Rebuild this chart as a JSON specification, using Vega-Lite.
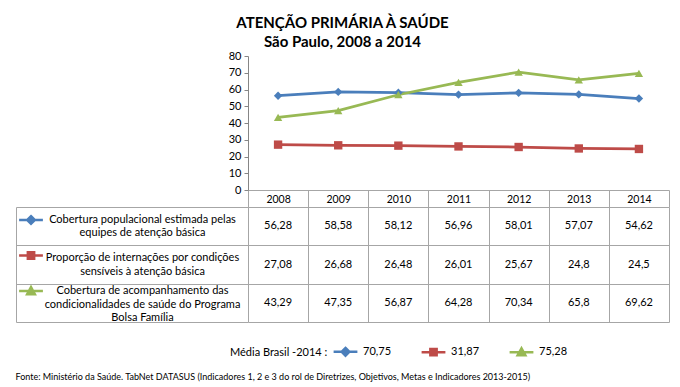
{
  "$schema": "https://vega.github.io/schema/vega-lite/v6.json",
  "background": "white",
  "padding": {"left": 15, "right": 12, "top": 16, "bottom": 4},
  "config": {
    "view": {"stroke": null},
    "font": "Lato",
    "locale": {"number": {"decimal": ",", "thousands": ".", "grouping": [3], "currency": ["R$", ""]}}
  },
  "title": {
    "text": "ATENÇÃO PRIMÁRIA À SAÚDE",
    "subtitle": "São Paulo, 2008 a 2014",
    "fontSize": 15,
    "fontWeight": "bold",
    "color": "black",
    "subtitleFontSize": 15,
    "subtitleFontWeight": "bold",
    "subtitleColor": "black",
    "subtitlePadding": 4,
    "anchor": "middle",
    "offset": 0
  },
  "datasets": {
    "indicadores": [
      {"ano": "2008", "serie": "Cobertura  populacional estimada pelas\nequipes de atenção básica", "valor": 56.28},
      {"ano": "2009", "serie": "Cobertura  populacional estimada pelas\nequipes de atenção básica", "valor": 58.58},
      {"ano": "2010", "serie": "Cobertura  populacional estimada pelas\nequipes de atenção básica", "valor": 58.12},
      {"ano": "2011", "serie": "Cobertura  populacional estimada pelas\nequipes de atenção básica", "valor": 56.96},
      {"ano": "2012", "serie": "Cobertura  populacional estimada pelas\nequipes de atenção básica", "valor": 58.01},
      {"ano": "2013", "serie": "Cobertura  populacional estimada pelas\nequipes de atenção básica", "valor": 57.07},
      {"ano": "2014", "serie": "Cobertura  populacional estimada pelas\nequipes de atenção básica", "valor": 54.62},
      {"ano": "2008", "serie": "Proporção de internações por condições\nsensíveis à atenção básica", "valor": 27.08},
      {"ano": "2009", "serie": "Proporção de internações por condições\nsensíveis à atenção básica", "valor": 26.68},
      {"ano": "2010", "serie": "Proporção de internações por condições\nsensíveis à atenção básica", "valor": 26.48},
      {"ano": "2011", "serie": "Proporção de internações por condições\nsensíveis à atenção básica", "valor": 26.01},
      {"ano": "2012", "serie": "Proporção de internações por condições\nsensíveis à atenção básica", "valor": 25.67},
      {"ano": "2013", "serie": "Proporção de internações por condições\nsensíveis à atenção básica", "valor": 24.8},
      {"ano": "2014", "serie": "Proporção de internações por condições\nsensíveis à atenção básica", "valor": 24.5},
      {"ano": "2008", "serie": "Cobertura de acompanhamento das\ncondicionalidades de saúde do Programa\nBolsa Família", "valor": 43.29},
      {"ano": "2009", "serie": "Cobertura de acompanhamento das\ncondicionalidades de saúde do Programa\nBolsa Família", "valor": 47.35},
      {"ano": "2010", "serie": "Cobertura de acompanhamento das\ncondicionalidades de saúde do Programa\nBolsa Família", "valor": 56.87},
      {"ano": "2011", "serie": "Cobertura de acompanhamento das\ncondicionalidades de saúde do Programa\nBolsa Família", "valor": 64.28},
      {"ano": "2012", "serie": "Cobertura de acompanhamento das\ncondicionalidades de saúde do Programa\nBolsa Família", "valor": 70.34},
      {"ano": "2013", "serie": "Cobertura de acompanhamento das\ncondicionalidades de saúde do Programa\nBolsa Família", "valor": 65.8},
      {"ano": "2014", "serie": "Cobertura de acompanhamento das\ncondicionalidades de saúde do Programa\nBolsa Família", "valor": 69.62}
    ],
    "media": [
      {"serie": "Cobertura  populacional estimada pelas\nequipes de atenção básica", "media_brasil_2014": "70,75"},
      {"serie": "Proporção de internações por condições\nsensíveis à atenção básica", "media_brasil_2014": "31,87"},
      {"serie": "Cobertura de acompanhamento das\ncondicionalidades de saúde do Programa\nBolsa Família", "media_brasil_2014": "75,28"}
    ]
  },
  "bounds": "flush",
  "spacing": 17,
  "resolve": {"scale": {"color": "independent", "shape": "independent", "fill": "independent", "stroke": "independent"}},
  "vconcat": [
    {
      "width": 421,
      "height": 134,
      "data": {"name": "indicadores"},
      "encoding": {
        "x": {
          "field": "ano", "type": "ordinal",
          "scale": {"type": "band", "paddingInner": 0, "paddingOuter": 0},
          "axis": {"title": null, "orient": "bottom", "domainColor": "#a6a6a6", "tickBand": "extent", "tickSize": 17, "tickColor": "#a6a6a6", "labelPadding": -13, "labelAngle": 0, "labelFontSize": 10.5, "labelColor": "black", "labelBaseline": "top"}
        },
        "y": {
          "field": "valor", "type": "quantitative",
          "scale": {"domain": [0, 80], "nice": false},
          "axis": {"title": null, "values": [0, 10, 20, 30, 40, 50, 60, 70, 80], "grid": false, "domainColor": "#868686", "tickColor": "#868686", "tickSize": 4, "labelFontSize": 11, "labelColor": "black", "labelPadding": 3}
        },
        "color": {
          "field": "serie", "type": "nominal", "sort": null,
          "scale": {"range": ["#4A7EBB", "#BE4B48", "#98B954"]},
          "legend": null
        }
      },
      "layer": [
        {"mark": {"type": "line", "strokeWidth": 2.75}},
        {
          "mark": {"type": "point", "filled": true, "opacity": 1, "size": 70},
          "encoding": {
            "shape": {"field": "serie", "type": "nominal", "sort": null, "scale": {"range": ["diamond", "square", "triangle-up"]}, "legend": null}
          }
        }
      ]
    },
    {
      "width": 421,
      "height": 115,
      "title": {
        "text": "Fonte: Ministério da Saúde. TabNet DATASUS (Indicadores 1, 2 e 3 do rol de Diretrizes, Objetivos, Metas e Indicadores 2013-2015)",
        "orient": "bottom", "anchor": "start", "fontSize": 9, "fontWeight": "normal", "color": "black", "offset": 12
      },
      "layer": [
        {
          "data": {"name": "indicadores"},
          "mark": {"type": "text", "fontSize": 11, "color": "black"},
          "encoding": {
            "x": {
              "field": "ano", "type": "ordinal",
              "scale": {"type": "band", "paddingInner": 0, "paddingOuter": 0},
              "axis": {"title": null, "labels": false, "ticks": false, "domain": false, "grid": true, "tickBand": "extent", "gridColor": "#a6a6a6", "gridOpacity": 1}
            },
            "y": {
              "field": "serie", "type": "nominal", "sort": null,
              "scale": {"type": "band", "paddingInner": 0, "paddingOuter": 0},
              "axis": {"title": null, "domain": false, "grid": true, "tickBand": "extent", "gridColor": "#a6a6a6", "gridOpacity": 1, "ticks": true, "tickSize": 232, "tickColor": "#a6a6a6", "labelExpr": "split(datum.label, '\\n')", "labelAlign": "center", "labelBaseline": "middle", "labelPadding": -126, "labelOffset": {"condition": {"test": "length(split(datum.label, '\\n')) > 2", "value": -12}, "value": -6.75}, "labelFontSize": 11, "labelLineHeight": 13.5, "labelLimit": 400, "labelColor": "black"}
            },
            "text": {"field": "valor", "type": "quantitative", "format": ".2~f"}
          }
        },
        {
          "data": {"name": "media"},
          "mark": {"type": "point", "opacity": 0},
          "encoding": {
            "y": {"field": "serie", "type": "nominal", "sort": null,
              "axis": {"orient": "left", "offset": 232, "domain": true, "domainColor": "#a6a6a6", "labels": false, "ticks": false, "grid": false, "title": null}}
          }
        },
        {
          "data": {"name": "media"},
          "mark": {"type": "point", "filled": true, "opacity": 0},
          "encoding": {
            "shape": {"field": "serie", "type": "nominal", "sort": null,
              "scale": {"range": ["M-3.4,0H3.4M0,-1.1L1.1,0L0,1.1L-1.1,0Z", "M-3.4,0H3.4M-0.9,-0.9H0.9V0.9H-0.9Z", "M-3.4,0H3.4M0,-1.1L1.1,0.9H-1.1Z"]},
              "legend": {"orient": "none", "legendX": -222, "legendY": 8, "title": null, "labelExpr": "''", "symbolSize": 49, "symbolStrokeWidth": 2.5, "symbolOpacity": 1, "rowPadding": 17.5, "labelOffset": 0, "padding": 0}},
            "fill": {"field": "serie", "type": "nominal", "sort": null, "scale": {"range": ["#4A7EBB", "#BE4B48", "#98B954"]},
              "legend": {"orient": "none", "legendX": -222, "legendY": 8, "title": null, "labelExpr": "''", "symbolSize": 49, "symbolStrokeWidth": 2.5, "symbolOpacity": 1, "rowPadding": 17.5, "labelOffset": 0, "padding": 0}},
            "stroke": {"field": "serie", "type": "nominal", "sort": null, "scale": {"range": ["#4A7EBB", "#BE4B48", "#98B954"]},
              "legend": {"orient": "none", "legendX": -222, "legendY": 8, "title": null, "labelExpr": "''", "symbolSize": 49, "symbolStrokeWidth": 2.5, "symbolOpacity": 1, "rowPadding": 17.5, "labelOffset": 0, "padding": 0}}
          }
        },
        {
          "data": {"name": "media"},
          "mark": {"type": "point", "filled": true, "opacity": 0},
          "encoding": {
            "shape": {"field": "media_brasil_2014", "type": "nominal", "sort": null,
              "scale": {"range": ["M-3.4,0H3.4M0,-1.1L1.1,0L0,1.1L-1.1,0Z", "M-3.4,0H3.4M-0.9,-0.9H0.9V0.9H-0.9Z", "M-3.4,0H3.4M0,-1.1L1.1,0.9H-1.1Z"]},
              "legend": {"orient": "none", "legendX": -18, "legendY": 139, "direction": "horizontal", "title": "Média Brasil -2014 :", "titleOrient": "left", "titleFontSize": 11, "titleFontWeight": "normal", "titleColor": "black", "titlePadding": 12, "labelFontSize": 11, "labelColor": "black", "labelOffset": 12, "symbolSize": 49, "symbolStrokeWidth": 2.5, "symbolOpacity": 1, "columnPadding": 24, "padding": 0}},
            "fill": {"field": "media_brasil_2014", "type": "nominal", "sort": null, "scale": {"range": ["#4A7EBB", "#BE4B48", "#98B954"]},
              "legend": {"orient": "none", "legendX": -18, "legendY": 139, "direction": "horizontal", "title": "Média Brasil -2014 :", "titleOrient": "left", "titleFontSize": 11, "titleFontWeight": "normal", "titleColor": "black", "titlePadding": 12, "labelFontSize": 11, "labelColor": "black", "labelOffset": 12, "symbolSize": 49, "symbolStrokeWidth": 2.5, "symbolOpacity": 1, "columnPadding": 24, "padding": 0}},
            "stroke": {"field": "media_brasil_2014", "type": "nominal", "sort": null, "scale": {"range": ["#4A7EBB", "#BE4B48", "#98B954"]},
              "legend": {"orient": "none", "legendX": -18, "legendY": 139, "direction": "horizontal", "title": "Média Brasil -2014 :", "titleOrient": "left", "titleFontSize": 11, "titleFontWeight": "normal", "titleColor": "black", "titlePadding": 12, "labelFontSize": 11, "labelColor": "black", "labelOffset": 12, "symbolSize": 49, "symbolStrokeWidth": 2.5, "symbolOpacity": 1, "columnPadding": 24, "padding": 0}}
          }
        }
      ],
      "resolve": {"scale": {"shape": "independent", "fill": "independent", "stroke": "independent"}, "axis": {"y": "independent"}}
    }
  ]
}
